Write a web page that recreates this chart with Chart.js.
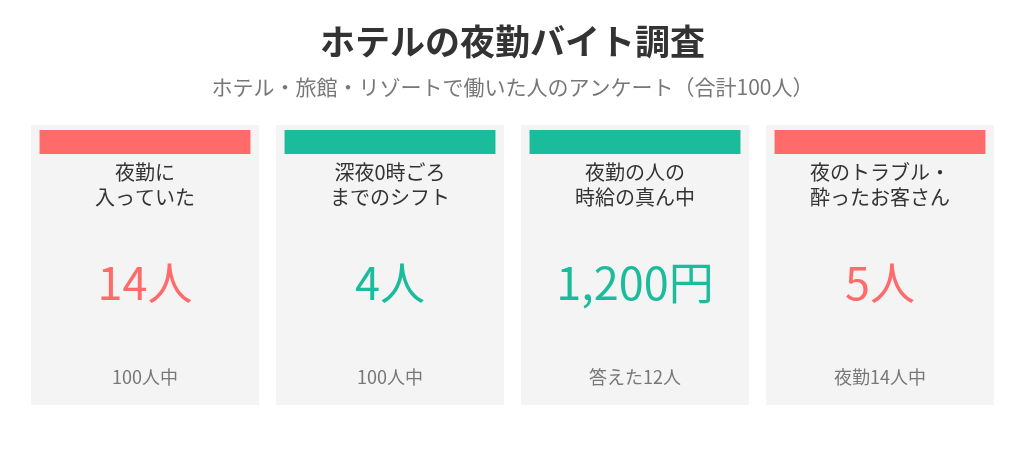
<!DOCTYPE html>
<html>
<head>
<meta charset="utf-8">
<script src="https://cdn.jsdelivr.net/npm/chart.js@4/dist/chart.umd.min.js"></script>
<style>
  body { margin: 0; background: #fff; }
  #wrap { width: 1024px; height: 450px; }
</style>
</head>
<body>
<div id="wrap"><canvas id="kpi"></canvas></div>
<script>
  // カードの中身
  const cardLabels = [["夜勤に", "入っていた"], ["深夜0時ごろ", "までのシフト"], ["夜勤の人の", "時給の真ん中"], ["夜のトラブル・", "酔ったお客さん"]];
  const cardValues = [14, 4, 1200, 5];
  const cardUnits = ["人", "人", "円", "人"];
  const cardNotes = ["100人中", "100人中", "答えた12人", "夜勤14人中"];
  const cardColors = ["#ff6b6b", "#1abc9c", "#1abc9c", "#ff6b6b"];

  Chart.defaults.font.family = "'Noto Sans CJK JP', 'Noto Sans', sans-serif";

  // カードの文字を描くプラグイン
  const cardText = {
    id: "cardText",
    afterDatasetsDraw(chart) {
      const ctx = chart.ctx;
      const y = chart.scales.y;
      const meta = chart.getDatasetMeta(0);
      ctx.save();
      ctx.textAlign = "center";
      ctx.textBaseline = "middle";
      meta.data.forEach((bar, i) => {
        const x = bar.x;
        ctx.fillStyle = "#333";
        ctx.font = "20px 'Noto Sans CJK JP'";
        ctx.fillText(cardLabels[i][0], x, y.getPixelForValue(0.168));
        ctx.fillText(cardLabels[i][1], x, y.getPixelForValue(0.257));
        ctx.fillStyle = cardColors[i];
        ctx.font = "45px 'Noto Sans CJK JP'";
        ctx.fillText(cardValues[i].toLocaleString("ja-JP") + cardUnits[i], x, y.getPixelForValue(0.564));
        ctx.fillStyle = "#777";
        ctx.font = "18px 'Noto Sans CJK JP'";
        ctx.fillText(cardNotes[i], x, y.getPixelForValue(0.9));
      });
      ctx.restore();
    }
  };

  const config_kpi = {
    type: "bar",
    data: {
      labels: cardLabels.map(l => l.join("")),
      datasets: [
        {
          label: "card",
          data: cardValues.map(() => [0, 1]),
          backgroundColor: "#f4f4f4",
          grouped: false,
          barPercentage: 1,
          order: 2
        },
        {
          label: "strip",
          data: cardValues.map(() => [0.018, 0.104]),
          backgroundColor: cardColors,
          grouped: false,
          barPercentage: 0.925,
          order: 1
        }
      ]
    },
    options: {
      responsive: true,
      maintainAspectRatio: false,
      animation: false,
      layout: { padding: { left: 22.5, right: 21.5, top: 0, bottom: 45 } },
      datasets: { bar: { categoryPercentage: 228 / 245, borderWidth: 0 } },
      scales: {
        x: { display: false },
        y: { display: false, min: 0, max: 1, reverse: true }
      },
      plugins: {
        legend: { display: false },
        tooltip: { enabled: false },
        title: {
          display: true,
          text: "ホテルの夜勤バイト調査",
          color: "#333",
          font: { size: 35, weight: "bold" },
          padding: { top: 20.5, bottom: 12 }
        },
        subtitle: {
          display: true,
          text: "ホテル・旅館・リゾートで働いた人のアンケート（合計100人）",
          color: "#777",
          font: { size: 21 },
          padding: { top: 0, bottom: 25.3 }
        }
      }
    },
    plugins: [cardText]
  };

  var kpiChart = new Chart(document.getElementById("kpi"), config_kpi);
</script>
</body>
</html>
